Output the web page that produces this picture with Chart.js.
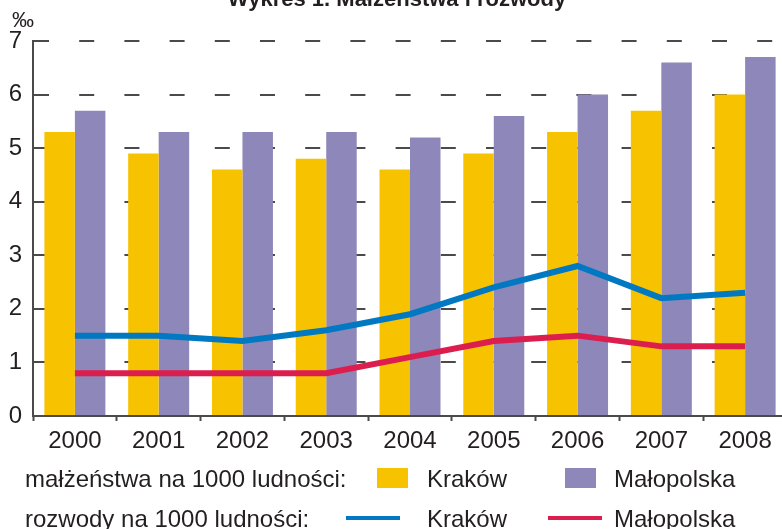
<!DOCTYPE html>
<html lang="pl">
<head>
<meta charset="utf-8">
<title>Małżeństwa i rozwody</title>
<script src="https://cdn.jsdelivr.net/npm/chart.js@4/dist/chart.umd.min.js"></script>
<style>
  html, body { margin: 0; padding: 0; background: #fff; overflow: hidden; }
  #wrap { position: relative; width: 800px; height: 529px; }
</style>
</head>
<body>
<div id="wrap"><canvas id="wykres" width="800" height="529"></canvas></div>
<script>
// dane
const lata = ['2000', '2001', '2002', '2003', '2004', '2005', '2006', '2007', '2008'];
const malzenstwaKrakow = [5.3, 4.9, 4.6, 4.8, 4.6, 4.9, 5.3, 5.7, 6.0];
const malzenstwaMalopolska = [5.7, 5.3, 5.3, 5.3, 5.2, 5.6, 6.0, 6.6, 6.7];
const rozwodyKrakow = [1.5, 1.5, 1.4, 1.6, 1.9, 2.4, 2.8, 2.2, 2.3];
const rozwodyMalopolska = [0.8, 0.8, 0.8, 0.8, 1.1, 1.4, 1.5, 1.3, 1.3];
const osY = [0, 1, 2, 3, 4, 5, 6, 7];

const tytul = 'Wykres 1. Małżeństwa i rozwody';
const jednostka = '‰';

// kolory
const zolty = '#f7c300';
const fiolet = '#8e87b9';
const niebieski = '#0079c2';
const czerwony = '#dc1e4e';
const szary = '#4a4a4a';
const tekst = '#231f20';
const FONT = 'Arial, "Liberation Sans", sans-serif';

// tytuł, jednostka i legenda rysowane na płótnie
const opisy = {
  id: 'opisy',
  afterDraw(chart) {
    const c = chart.ctx;
    c.save();
    c.fillStyle = tekst;
    c.textBaseline = 'alphabetic';

    c.font = 'bold 22px ' + FONT;
    c.textAlign = 'center';
    c.fillText(tytul, 397, 6);

    c.textAlign = 'left';
    c.font = '22px ' + FONT;
    c.fillText(jednostka, 12, 27);

    c.font = '24px ' + FONT;
    c.fillText('małżeństwa na 1000 ludności:', 25, 487);
    c.fillText('Kraków', 427, 487);
    c.fillText('Małopolska', 614, 487);
    c.fillText('rozwody na 1000 ludności:', 25, 527);
    c.fillText('Kraków', 427, 527);
    c.fillText('Małopolska', 614, 527);

    c.fillStyle = zolty;
    c.fillRect(377, 468, 31, 20);
    c.fillStyle = fiolet;
    c.fillRect(565, 468, 31, 20);

    c.lineWidth = 4;
    c.strokeStyle = niebieski;
    c.beginPath(); c.moveTo(346, 518); c.lineTo(400, 518); c.stroke();
    c.strokeStyle = czerwony;
    c.beginPath(); c.moveTo(548, 518); c.lineTo(602, 518); c.stroke();
    c.restore();
  }
};

new Chart(document.getElementById('wykres'), {
  type: 'bar',
  data: {
    labels: lata,
    datasets: [
      { label: 'małżeństwa – Kraków', data: malzenstwaKrakow, backgroundColor: zolty, order: 2,
        categoryPercentage: 0.728, barPercentage: 1.0 },
      { label: 'małżeństwa – Małopolska', data: malzenstwaMalopolska, backgroundColor: fiolet, order: 2,
        categoryPercentage: 0.728, barPercentage: 1.0 },
      { type: 'line', label: 'rozwody – Kraków', data: rozwodyKrakow, borderColor: niebieski,
        borderWidth: 6, pointRadius: 0, tension: 0, order: 1 },
      { type: 'line', label: 'rozwody – Małopolska', data: rozwodyMalopolska, borderColor: czerwony,
        borderWidth: 6, pointRadius: 0, tension: 0, order: 1 }
    ]
  },
  options: {
    responsive: false,
    animation: false,
    layout: { padding: { left: 0, top: 41, right: 13, bottom: 0 } },
    plugins: { legend: { display: false }, tooltip: { enabled: false }, title: { display: false } },
    scales: {
      x: {
        afterFit: s => { s.height = 113; },
        grid: { drawOnChartArea: false, drawTicks: true, tickLength: 5, tickWidth: 2, tickColor: szary },
        border: { display: true, color: szary, width: 2 },
        ticks: { color: tekst, font: { family: FONT, size: 24 }, padding: 6, maxRotation: 0, autoSkip: false }
      },
      y: {
        min: osY[0],
        max: osY[osY.length - 1],
        afterFit: s => { s.width = 33; },
        afterBuildTicks: s => { s.ticks = osY.map(v => ({ value: v })); },
        grid: { color: szary, lineWidth: 2, drawTicks: false },
        border: { display: true, color: szary, width: 2, dash: [15, 30.2] },
        ticks: { color: tekst, font: { family: FONT, size: 24 }, padding: 11 }
      }
    }
  },
  plugins: [opisy]
});
</script>
</body>
</html>
